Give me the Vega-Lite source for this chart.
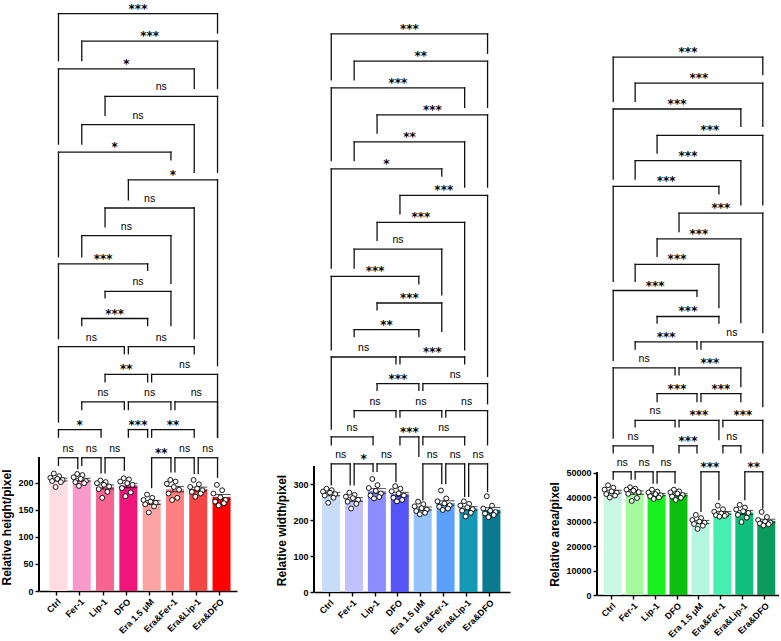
{
"$schema": "https://vega.github.io/schema/vega-lite/v6.json",
"padding": {"left": 0, "top": 0, "right": 0, "bottom": 0},
"config": {
 "view": {"stroke": null},
 "axis": {"labelFont": "Liberation Sans", "labelFontSize": 9, "labelFontWeight": "bold", "labelColor": "#000", "titleFont": "Liberation Sans", "titleFontSize": 12, "titleFontWeight": "bold", "titleColor": "#000", "domainColor": "#000", "domainWidth": 1.4, "tickColor": "#000", "tickWidth": 1.4, "tickSize": 4, "labelPadding": 2, "titlePadding": 4, "grid": false}
},
"resolve": {"scale": {"color": "independent"}},
"datasets": {
 "p1": [
  {"g":"Ctrl","r":3,"v":217},{"g":"Ctrl","r":6,"v":212},{"g":"Ctrl","r":1,"v":209},{"g":"Ctrl","r":5,"v":207},{"g":"Ctrl","r":8,"v":205},{"g":"Ctrl","r":2,"v":203},{"g":"Ctrl","r":7,"v":201},{"g":"Ctrl","r":4,"v":192},
  {"g":"Fer-1","r":3,"v":216},{"g":"Fer-1","r":6,"v":214},{"g":"Fer-1","r":1,"v":210},{"g":"Fer-1","r":5,"v":207},{"g":"Fer-1","r":8,"v":203},{"g":"Fer-1","r":2,"v":201},{"g":"Fer-1","r":7,"v":199},{"g":"Fer-1","r":4,"v":194},
  {"g":"Lip-1","r":3,"v":204},{"g":"Lip-1","r":6,"v":201},{"g":"Lip-1","r":1,"v":199},{"g":"Lip-1","r":5,"v":196},{"g":"Lip-1","r":8,"v":193},{"g":"Lip-1","r":2,"v":188},{"g":"Lip-1","r":7,"v":183},{"g":"Lip-1","r":4,"v":172},
  {"g":"DFO","r":3,"v":208},{"g":"DFO","r":6,"v":206},{"g":"DFO","r":1,"v":202},{"g":"DFO","r":5,"v":199},{"g":"DFO","r":8,"v":196},{"g":"DFO","r":2,"v":190},{"g":"DFO","r":7,"v":182},{"g":"DFO","r":4,"v":175},
  {"g":"Era 1.5 μM","r":3,"v":178},{"g":"Era 1.5 μM","r":6,"v":172},{"g":"Era 1.5 μM","r":1,"v":168},{"g":"Era 1.5 μM","r":5,"v":165},{"g":"Era 1.5 μM","r":8,"v":163},{"g":"Era 1.5 μM","r":2,"v":160},{"g":"Era 1.5 μM","r":7,"v":156},{"g":"Era 1.5 μM","r":4,"v":145},
  {"g":"Era&Fer-1","r":3,"v":205},{"g":"Era&Fer-1","r":6,"v":202},{"g":"Era&Fer-1","r":1,"v":198},{"g":"Era&Fer-1","r":5,"v":192},{"g":"Era&Fer-1","r":8,"v":187},{"g":"Era&Fer-1","r":2,"v":180},{"g":"Era&Fer-1","r":7,"v":172},{"g":"Era&Fer-1","r":4,"v":168},
  {"g":"Era&Lip-1","r":3,"v":205},{"g":"Era&Lip-1","r":6,"v":197},{"g":"Era&Lip-1","r":1,"v":192},{"g":"Era&Lip-1","r":5,"v":189},{"g":"Era&Lip-1","r":8,"v":186},{"g":"Era&Lip-1","r":2,"v":183},{"g":"Era&Lip-1","r":7,"v":180},{"g":"Era&Lip-1","r":4,"v":174},
  {"g":"Era&DFO","r":3,"v":196},{"g":"Era&DFO","r":6,"v":186},{"g":"Era&DFO","r":1,"v":180},{"g":"Era&DFO","r":5,"v":173},{"g":"Era&DFO","r":8,"v":168},{"g":"Era&DFO","r":2,"v":165},{"g":"Era&DFO","r":7,"v":162},{"g":"Era&DFO","r":4,"v":158}
 ],
 "p2": [
  {"g":"Ctrl","r":3,"v":287},{"g":"Ctrl","r":6,"v":283},{"g":"Ctrl","r":1,"v":279},{"g":"Ctrl","r":5,"v":276},{"g":"Ctrl","r":8,"v":272},{"g":"Ctrl","r":2,"v":268},{"g":"Ctrl","r":7,"v":262},{"g":"Ctrl","r":4,"v":248},
  {"g":"Fer-1","r":3,"v":276},{"g":"Fer-1","r":6,"v":270},{"g":"Fer-1","r":1,"v":265},{"g":"Fer-1","r":5,"v":261},{"g":"Fer-1","r":8,"v":256},{"g":"Fer-1","r":2,"v":251},{"g":"Fer-1","r":7,"v":245},{"g":"Fer-1","r":4,"v":232},
  {"g":"Lip-1","r":3,"v":314},{"g":"Lip-1","r":6,"v":297},{"g":"Lip-1","r":1,"v":289},{"g":"Lip-1","r":5,"v":281},{"g":"Lip-1","r":8,"v":274},{"g":"Lip-1","r":2,"v":268},{"g":"Lip-1","r":7,"v":264},{"g":"Lip-1","r":4,"v":260},
  {"g":"DFO","r":3,"v":294},{"g":"DFO","r":6,"v":287},{"g":"DFO","r":1,"v":280},{"g":"DFO","r":5,"v":274},{"g":"DFO","r":8,"v":268},{"g":"DFO","r":2,"v":262},{"g":"DFO","r":7,"v":256},{"g":"DFO","r":4,"v":252},
  {"g":"Era 1.5 μM","r":3,"v":251},{"g":"Era 1.5 μM","r":6,"v":244},{"g":"Era 1.5 μM","r":1,"v":238},{"g":"Era 1.5 μM","r":5,"v":233},{"g":"Era 1.5 μM","r":8,"v":229},{"g":"Era 1.5 μM","r":2,"v":225},{"g":"Era 1.5 μM","r":7,"v":220},{"g":"Era 1.5 μM","r":4,"v":216},
  {"g":"Era&Fer-1","r":3,"v":282},{"g":"Era&Fer-1","r":6,"v":260},{"g":"Era&Fer-1","r":1,"v":252},{"g":"Era&Fer-1","r":5,"v":246},{"g":"Era&Fer-1","r":8,"v":241},{"g":"Era&Fer-1","r":2,"v":237},{"g":"Era&Fer-1","r":7,"v":232},{"g":"Era&Fer-1","r":4,"v":228},
  {"g":"Era&Lip-1","r":3,"v":252},{"g":"Era&Lip-1","r":6,"v":245},{"g":"Era&Lip-1","r":1,"v":240},{"g":"Era&Lip-1","r":5,"v":235},{"g":"Era&Lip-1","r":8,"v":230},{"g":"Era&Lip-1","r":2,"v":226},{"g":"Era&Lip-1","r":7,"v":220},{"g":"Era&Lip-1","r":4,"v":210},
  {"g":"Era&DFO","r":3,"v":266},{"g":"Era&DFO","r":6,"v":240},{"g":"Era&DFO","r":1,"v":232},{"g":"Era&DFO","r":5,"v":226},{"g":"Era&DFO","r":8,"v":222},{"g":"Era&DFO","r":2,"v":218},{"g":"Era&DFO","r":7,"v":214},{"g":"Era&DFO","r":4,"v":208}
 ],
 "p3": [
  {"g":"Ctrl","r":3,"v":44800},{"g":"Ctrl","r":6,"v":43800},{"g":"Ctrl","r":1,"v":43000},{"g":"Ctrl","r":5,"v":42300},{"g":"Ctrl","r":8,"v":41800},{"g":"Ctrl","r":2,"v":41200},{"g":"Ctrl","r":7,"v":40600},{"g":"Ctrl","r":4,"v":39800},
  {"g":"Fer-1","r":3,"v":44000},{"g":"Fer-1","r":6,"v":43400},{"g":"Fer-1","r":1,"v":43000},{"g":"Fer-1","r":5,"v":42600},{"g":"Fer-1","r":8,"v":42000},{"g":"Fer-1","r":2,"v":41300},{"g":"Fer-1","r":7,"v":39600},{"g":"Fer-1","r":4,"v":38400},
  {"g":"Lip-1","r":3,"v":43000},{"g":"Lip-1","r":6,"v":42200},{"g":"Lip-1","r":1,"v":41800},{"g":"Lip-1","r":5,"v":41200},{"g":"Lip-1","r":8,"v":40700},{"g":"Lip-1","r":2,"v":40300},{"g":"Lip-1","r":7,"v":39800},{"g":"Lip-1","r":4,"v":39200},
  {"g":"DFO","r":3,"v":43000},{"g":"DFO","r":6,"v":42300},{"g":"DFO","r":1,"v":41900},{"g":"DFO","r":5,"v":41400},{"g":"DFO","r":8,"v":40800},{"g":"DFO","r":2,"v":40200},{"g":"DFO","r":7,"v":39700},{"g":"DFO","r":4,"v":38800},
  {"g":"Era 1.5 μM","r":3,"v":32700},{"g":"Era 1.5 μM","r":6,"v":31400},{"g":"Era 1.5 μM","r":1,"v":30600},{"g":"Era 1.5 μM","r":5,"v":30000},{"g":"Era 1.5 μM","r":8,"v":29500},{"g":"Era 1.5 μM","r":2,"v":29000},{"g":"Era 1.5 μM","r":7,"v":28300},{"g":"Era 1.5 μM","r":4,"v":27000},
  {"g":"Era&Fer-1","r":3,"v":36500},{"g":"Era&Fer-1","r":6,"v":35000},{"g":"Era&Fer-1","r":1,"v":34000},{"g":"Era&Fer-1","r":5,"v":33300},{"g":"Era&Fer-1","r":8,"v":32900},{"g":"Era&Fer-1","r":2,"v":32600},{"g":"Era&Fer-1","r":7,"v":32300},{"g":"Era&Fer-1","r":4,"v":32000},
  {"g":"Era&Lip-1","r":3,"v":36800},{"g":"Era&Lip-1","r":6,"v":35700},{"g":"Era&Lip-1","r":1,"v":34900},{"g":"Era&Lip-1","r":5,"v":34200},{"g":"Era&Lip-1","r":8,"v":33500},{"g":"Era&Lip-1","r":2,"v":32700},{"g":"Era&Lip-1","r":7,"v":31600},{"g":"Era&Lip-1","r":4,"v":29800},
  {"g":"Era&DFO","r":3,"v":33900},{"g":"Era&DFO","r":6,"v":31800},{"g":"Era&DFO","r":1,"v":30600},{"g":"Era&DFO","r":5,"v":30000},{"g":"Era&DFO","r":8,"v":29600},{"g":"Era&DFO","r":2,"v":29200},{"g":"Era&DFO","r":7,"v":28900},{"g":"Era&DFO","r":4,"v":28400}
 ],
 "b1": [
  {"a":"Ctrl","b":"Era&DFO","y":1066,"yl":979,"yr":1030,"lab":"***","mg":"DFO","h":1},
  {"a":"Fer-1","b":"Era&DFO","y":1015,"yl":979,"yr":928,"lab":"***","mg":"Era 1.5 μM","h":0},
  {"a":"Ctrl","b":"Era&Lip-1","y":964,"yl":825,"yr":928,"lab":"*","mg":"DFO","h":0},
  {"a":"Lip-1","b":"Era&DFO","y":913,"yl":878,"yr":773,"lab":"ns","mg":"Era 1.5 μM","h":1},
  {"a":"Fer-1","b":"Era&Lip-1","y":861,"yl":825,"yr":773,"lab":"ns","mg":"DFO","h":1},
  {"a":"Ctrl","b":"Era&Fer-1","y":810,"yl":617,"yr":796,"lab":"*","mg":"Lip-1","h":1},
  {"a":"DFO","b":"Era&DFO","y":759,"yl":722,"yr":416,"lab":"*","mg":"Era&Fer-1","h":0},
  {"a":"Lip-1","b":"Era&Lip-1","y":707,"yl":672,"yr":466,"lab":"ns","mg":"Era 1.5 μM","h":0},
  {"a":"Fer-1","b":"Era&Fer-1","y":656,"yl":617,"yr":568,"lab":"ns","mg":"DFO","h":0},
  {"a":"Ctrl","b":"Era 1.5 μM","y":604,"yl":466,"yr":592,"lab":"***","mg":"Lip-1","h":0},
  {"a":"Lip-1","b":"Era&Fer-1","y":553,"yl":541,"yr":490,"lab":"ns","mg":"DFO","h":1},
  {"a":"Fer-1","b":"Era 1.5 μM","y":503,"yl":490,"yr":490,"lab":"***","mg":"Lip-1","h":1},
  {"a":"Ctrl","b":"DFO","y":451,"yl":312,"yr":438,"lab":"ns","mg":"Fer-1","h":1},
  {"a":"DFO","b":"Era&Lip-1","y":451,"yl":438,"yr":438,"lab":"ns","mg":"Era 1.5 μM","h":1},
  {"a":"Lip-1","b":"Era 1.5 μM","y":400,"yl":386,"yr":386,"lab":"**","mg":"DFO","h":0},
  {"a":"Era 1.5 μM","b":"Era&DFO","y":400,"yl":386,"yr":284,"lab":"ns","mg":"Era&Fer-1","h":1},
  {"a":"Fer-1","b":"DFO","y":349,"yl":335,"yr":335,"lab":"ns","mg":"Lip-1","h":0},
  {"a":"DFO","b":"Era&Fer-1","y":349,"yl":335,"yr":335,"lab":"ns","mg":"Era 1.5 μM","h":0},
  {"a":"Era&Fer-1","b":"Era&DFO","y":349,"yl":335,"yr":284,"lab":"ns","mg":"Era&Lip-1","h":0},
  {"a":"Ctrl","b":"Lip-1","y":298,"yl":284,"yr":284,"lab":"*","mg":"Fer-1","h":0},
  {"a":"DFO","b":"Era 1.5 μM","y":298,"yl":284,"yr":284,"lab":"***","mg":"DFO","h":1},
  {"a":"Era 1.5 μM","b":"Era&Lip-1","y":298,"yl":284,"yr":284,"lab":"**","mg":"Era&Fer-1","h":0},
  {"a":"Ctrl","b":"Fer-1","y":246,"yl":232,"yr":226,"lab":"ns","mg":"Ctrl","h":1},
  {"a":"Fer-1","b":"Lip-1","y":246,"yl":232,"yr":218,"lab":"ns","mg":"Fer-1","h":1},
  {"a":"Lip-1","b":"DFO","y":246,"yl":218,"yr":223,"lab":"ns","mg":"Lip-1","h":1},
  {"a":"Era 1.5 μM","b":"Era&Fer-1","y":246,"yl":191,"yr":220,"lab":"**","mg":"Era 1.5 μM","h":1},
  {"a":"Era&Fer-1","b":"Era&Lip-1","y":246,"yl":220,"yr":217,"lab":"ns","mg":"Era&Fer-1","h":1},
  {"a":"Era&Lip-1","b":"Era&DFO","y":246,"yl":217,"yr":210,"lab":"ns","mg":"Era&Lip-1","h":1}
 ],
 "b2": [
  {"a":"Ctrl","b":"Era&DFO","y":1551,"yl":1423,"yr":1497,"lab":"***","mg":"DFO","h":1},
  {"a":"Fer-1","b":"Era&DFO","y":1475,"yl":1423,"yr":1347,"lab":"**","mg":"Era 1.5 μM","h":0},
  {"a":"Ctrl","b":"Era&Lip-1","y":1401,"yl":1199,"yr":1347,"lab":"***","mg":"DFO","h":0},
  {"a":"Lip-1","b":"Era&DFO","y":1326,"yl":1275,"yr":1125,"lab":"***","mg":"Era 1.5 μM","h":1},
  {"a":"Fer-1","b":"Era&Lip-1","y":1251,"yl":1199,"yr":1125,"lab":"**","mg":"DFO","h":1},
  {"a":"Ctrl","b":"Era&Fer-1","y":1176,"yl":900,"yr":1156,"lab":"*","mg":"Lip-1","h":1},
  {"a":"DFO","b":"Era&DFO","y":1102,"yl":1051,"yr":599,"lab":"***","mg":"Era&Fer-1","h":0},
  {"a":"Lip-1","b":"Era&Lip-1","y":1027,"yl":977,"yr":673,"lab":"***","mg":"Era 1.5 μM","h":0},
  {"a":"Fer-1","b":"Era&Fer-1","y":953,"yl":900,"yr":826,"lab":"ns","mg":"DFO","h":0},
  {"a":"Ctrl","b":"Era 1.5 μM","y":877,"yl":673,"yr":856,"lab":"***","mg":"Lip-1","h":0},
  {"a":"Lip-1","b":"Era&Fer-1","y":803,"yl":784,"yr":724,"lab":"***","mg":"DFO","h":1},
  {"a":"Fer-1","b":"Era 1.5 μM","y":729,"yl":710,"yr":710,"lab":"**","mg":"Lip-1","h":1},
  {"a":"Ctrl","b":"DFO","y":653,"yl":453,"yr":634,"lab":"ns","mg":"Fer-1","h":1},
  {"a":"DFO","b":"Era&Lip-1","y":653,"yl":634,"yr":634,"lab":"***","mg":"Era 1.5 μM","h":1},
  {"a":"Lip-1","b":"Era 1.5 μM","y":579,"yl":560,"yr":560,"lab":"***","mg":"DFO","h":0},
  {"a":"Era 1.5 μM","b":"Era&DFO","y":579,"yl":560,"yr":523,"lab":"ns","mg":"Era&Fer-1","h":1},
  {"a":"Fer-1","b":"DFO","y":504,"yl":486,"yr":486,"lab":"ns","mg":"Lip-1","h":0},
  {"a":"DFO","b":"Era&Fer-1","y":504,"yl":486,"yr":486,"lab":"ns","mg":"Era 1.5 μM","h":0},
  {"a":"Era&Fer-1","b":"Era&DFO","y":504,"yl":486,"yr":409,"lab":"ns","mg":"Era&Lip-1","h":0},
  {"a":"Ctrl","b":"Lip-1","y":431,"yl":409,"yr":409,"lab":"ns","mg":"Fer-1","h":0},
  {"a":"DFO","b":"Era 1.5 μM","y":431,"yl":409,"yr":377,"lab":"***","mg":"DFO","h":1},
  {"a":"Era 1.5 μM","b":"Era&Lip-1","y":431,"yl":409,"yr":409,"lab":"ns","mg":"Era&Fer-1","h":0},
  {"a":"Ctrl","b":"Fer-1","y":356,"yl":298,"yr":298,"lab":"ns","mg":"Ctrl","h":1},
  {"a":"Fer-1","b":"Lip-1","y":356,"yl":298,"yr":335,"lab":"*","mg":"Fer-1","h":1},
  {"a":"Lip-1","b":"DFO","y":356,"yl":335,"yr":307,"lab":"ns","mg":"Lip-1","h":1},
  {"a":"Era 1.5 μM","b":"Era&Fer-1","y":356,"yl":256,"yr":301,"lab":"ns","mg":"Era 1.5 μM","h":1},
  {"a":"Era&Fer-1","b":"Era&Lip-1","y":356,"yl":301,"yr":266,"lab":"ns","mg":"Era&Fer-1","h":1},
  {"a":"Era&Lip-1","b":"Era&DFO","y":356,"yl":266,"yr":279,"lab":"ns","mg":"Era&Lip-1","h":1}
 ],
 "b3": [
  {"a":"Ctrl","b":"Era&DFO","y":219600,"yl":201500,"yr":212400,"lab":"***","mg":"DFO","h":1},
  {"a":"Fer-1","b":"Era&DFO","y":209000,"yl":201500,"yr":191300,"lab":"***","mg":"Era 1.5 μM","h":0},
  {"a":"Ctrl","b":"Era&Lip-1","y":198400,"yl":169800,"yr":191300,"lab":"***","mg":"DFO","h":0},
  {"a":"Lip-1","b":"Era&DFO","y":187600,"yl":180400,"yr":159300,"lab":"***","mg":"Era 1.5 μM","h":1},
  {"a":"Fer-1","b":"Era&Lip-1","y":177300,"yl":169800,"yr":159300,"lab":"***","mg":"DFO","h":1},
  {"a":"Ctrl","b":"Era&Fer-1","y":166800,"yl":128000,"yr":163800,"lab":"***","mg":"Lip-1","h":1},
  {"a":"DFO","b":"Era&DFO","y":155900,"yl":148400,"yr":107100,"lab":"***","mg":"Era&Fer-1","h":0},
  {"a":"Lip-1","b":"Era&Lip-1","y":145400,"yl":138200,"yr":111200,"lab":"***","mg":"Era 1.5 μM","h":0},
  {"a":"Fer-1","b":"Era&Fer-1","y":135000,"yl":128000,"yr":117300,"lab":"***","mg":"DFO","h":0},
  {"a":"Ctrl","b":"Era 1.5 μM","y":124300,"yl":95800,"yr":121900,"lab":"***","mg":"Lip-1","h":0},
  {"a":"Lip-1","b":"Era&Fer-1","y":113700,"yl":111000,"yr":111000,"lab":"***","mg":"DFO","h":1},
  {"a":"Fer-1","b":"Era 1.5 μM","y":103300,"yl":100400,"yr":100400,"lab":"***","mg":"Lip-1","h":1},
  {"a":"Era 1.5 μM","b":"Era&DFO","y":103300,"yl":100400,"yr":76900,"lab":"ns","mg":"Era&Fer-1","h":1},
  {"a":"Ctrl","b":"DFO","y":92700,"yl":64100,"yr":89900,"lab":"ns","mg":"Fer-1","h":1},
  {"a":"DFO","b":"Era&Lip-1","y":92700,"yl":89900,"yr":85100,"lab":"***","mg":"Era 1.5 μM","h":1},
  {"a":"Lip-1","b":"Era 1.5 μM","y":82200,"yl":79000,"yr":79000,"lab":"***","mg":"DFO","h":0},
  {"a":"Era 1.5 μM","b":"Era&Lip-1","y":82200,"yl":79000,"yr":79000,"lab":"***","mg":"Era&Fer-1","h":0},
  {"a":"Fer-1","b":"DFO","y":71300,"yl":68600,"yr":68600,"lab":"ns","mg":"Lip-1","h":0},
  {"a":"DFO","b":"Era&Fer-1","y":71300,"yl":68600,"yr":63400,"lab":"***","mg":"Era 1.5 μM","h":0},
  {"a":"Era&Fer-1","b":"Era&DFO","y":71300,"yl":68600,"yr":58000,"lab":"***","mg":"Era&Lip-1","h":0},
  {"a":"Ctrl","b":"Lip-1","y":60900,"yl":58000,"yr":58000,"lab":"ns","mg":"Fer-1","h":0},
  {"a":"DFO","b":"Era 1.5 μM","y":60900,"yl":58000,"yr":58000,"lab":"***","mg":"DFO","h":1},
  {"a":"Era&Fer-1","b":"Era&Lip-1","y":60900,"yl":58000,"yr":58000,"lab":"ns","mg":"Era&Fer-1","h":1},
  {"a":"Ctrl","b":"Fer-1","y":50300,"yl":47350,"yr":47350,"lab":"ns","mg":"Ctrl","h":1},
  {"a":"Fer-1","b":"Lip-1","y":50300,"yl":47350,"yr":45700,"lab":"ns","mg":"Fer-1","h":1},
  {"a":"Lip-1","b":"DFO","y":50300,"yl":45700,"yr":45700,"lab":"ns","mg":"Lip-1","h":1},
  {"a":"Era 1.5 μM","b":"Era&Fer-1","y":50300,"yl":34100,"yr":38900,"lab":"***","mg":"Era 1.5 μM","h":1},
  {"a":"Era&Lip-1","b":"Era&DFO","y":50300,"yl":38900,"yr":35500,"lab":"**","mg":"Era&Lip-1","h":1}
 ]
},
"spacing": 38,
"hconcat": [
 {
  "width": 198, "height": 591,
  "layer": [
   {"data": {"name": "p1"}, "mark": {"type": "bar"},
    "encoding": {
     "x": {"field": "g", "type": "nominal", "scale": {"type": "band", "domain": ["Ctrl","Fer-1","Lip-1","DFO","Era 1.5 μM","Era&Fer-1","Era&Lip-1","Era&DFO"], "paddingInner": 0.4, "paddingOuter": 0.45}, "axis": {"title": null, "labelAngle": -45}},
     "y": {"aggregate": "mean", "field": "v", "type": "quantitative", "scale": {"domain": [0, 1091], "nice": false}, "axis": {"title": "Relative height/pixel", "values": [0, 50, 100, 150, 200], "domain": false, "titleY": 527}},
     "color": {"field": "g", "type": "nominal", "scale": {"domain": ["Ctrl","Fer-1","Lip-1","DFO","Era 1.5 μM","Era&Fer-1","Era&Lip-1","Era&DFO"], "range": ["#FFDDE3","#F799C9","#F56492","#F0157A","#FCA3A3","#FF8080","#F54545","#FF0000"]}, "legend": null}
    }},
   {"data": {"name": "p1"}, "mark": {"type": "rule", "color": "#000", "strokeWidth": 1.4},
    "encoding": {"x": {"value": 0}, "y": {"datum": 0, "type": "quantitative"}, "y2": {"datum": 246}}},
   {"data": {"name": "p1"}, "mark": {"type": "errorbar", "extent": "stderr", "color": "#000", "thickness": 1, "ticks": true},
    "encoding": {"x": {"field": "g", "type": "nominal", "title": null}, "y": {"field": "v", "type": "quantitative", "title": "Relative height/pixel"}}},
   {"data": {"name": "p1"}, "mark": {"type": "circle", "size": 24, "fill": "#fff", "stroke": "#000", "strokeWidth": 0.9, "opacity": 1},
    "encoding": {"x": {"field": "g", "type": "nominal", "title": null}, "xOffset": {"field": "r", "type": "nominal"}, "y": {"field": "v", "type": "quantitative", "title": "Relative height/pixel"}}},
   {"data": {"name": "b1"}, "mark": {"type": "rule", "color": "#111", "strokeWidth": 1.3, "strokeCap": "square", "xOffset": 2, "x2Offset": -2},
    "encoding": {"x": {"field": "a", "type": "nominal"}, "x2": {"field": "b"}, "y": {"field": "y", "type": "quantitative"}}},
   {"data": {"name": "b1"}, "mark": {"type": "rule", "color": "#111", "strokeWidth": 1.3, "strokeCap": "square", "xOffset": 2},
    "encoding": {"x": {"field": "a", "type": "nominal"}, "y": {"field": "y", "type": "quantitative"}, "y2": {"field": "yl"}}},
   {"data": {"name": "b1"}, "mark": {"type": "rule", "color": "#111", "strokeWidth": 1.3, "strokeCap": "square", "xOffset": -2},
    "encoding": {"x": {"field": "b", "type": "nominal"}, "y": {"field": "y", "type": "quantitative"}, "y2": {"field": "yr"}}},
   {"data": {"name": "b1"}, "transform": [{"filter": "datum.lab == 'ns' && datum.h == 0"}],
    "mark": {"type": "text", "font": "Liberation Sans", "fontSize": 10.5, "baseline": "alphabetic", "dy": -6, "color": "#000"},
    "encoding": {"x": {"field": "mg", "type": "nominal"}, "y": {"field": "y", "type": "quantitative"}, "text": {"field": "lab"}}},
   {"data": {"name": "b1"}, "transform": [{"filter": "datum.lab == 'ns' && datum.h == 1"}],
    "mark": {"type": "text", "font": "Liberation Sans", "fontSize": 10.5, "baseline": "alphabetic", "dy": -6, "color": "#000"},
    "encoding": {"x": {"field": "mg", "type": "nominal", "bandPosition": 1.3333}, "y": {"field": "y", "type": "quantitative"}, "text": {"field": "lab"}}},
   {"data": {"name": "b1"}, "transform": [{"filter": "datum.lab != 'ns' && datum.h == 0"}],
    "mark": {"type": "text", "font": "DejaVu Sans", "fontWeight": "bold", "fontSize": 12, "baseline": "alphabetic", "dy": -1, "color": "#000"},
    "encoding": {"x": {"field": "mg", "type": "nominal"}, "y": {"field": "y", "type": "quantitative"}, "text": {"field": "lab"}}},
   {"data": {"name": "b1"}, "transform": [{"filter": "datum.lab != 'ns' && datum.h == 1"}],
    "mark": {"type": "text", "font": "DejaVu Sans", "fontWeight": "bold", "fontSize": 12, "baseline": "alphabetic", "dy": -1, "color": "#000"},
    "encoding": {"x": {"field": "mg", "type": "nominal", "bandPosition": 1.3333}, "y": {"field": "y", "type": "quantitative"}, "text": {"field": "lab"}}}
  ]
 },
 {
  "width": 196, "height": 592,
  "layer": [
   {"data": {"name": "p2"}, "mark": {"type": "bar"},
    "encoding": {
     "x": {"field": "g", "type": "nominal", "scale": {"type": "band", "domain": ["Ctrl","Fer-1","Lip-1","DFO","Era 1.5 μM","Era&Fer-1","Era&Lip-1","Era&DFO"], "paddingInner": 0.375, "paddingOuter": 0.467, "align": 0.379}, "axis": {"title": null, "labelAngle": -45}},
     "y": {"aggregate": "mean", "field": "v", "type": "quantitative", "scale": {"domain": [0, 1645], "nice": false}, "axis": {"title": "Relative width/pixel", "values": [0, 100, 200, 300], "domain": false, "titleY": 530}},
     "color": {"field": "g", "type": "nominal", "scale": {"domain": ["Ctrl","Fer-1","Lip-1","DFO","Era 1.5 μM","Era&Fer-1","Era&Lip-1","Era&DFO"], "range": ["#C7DCF7","#C1C1FF","#8D8DFF","#5454F7","#94C2F9","#5AA0F8","#1498B4","#0B7A90"]}, "legend": null}
    }},
   {"data": {"name": "p2"}, "mark": {"type": "rule", "color": "#000", "strokeWidth": 1.4},
    "encoding": {"x": {"value": 0}, "y": {"datum": 0, "type": "quantitative"}, "y2": {"datum": 350}}},
   {"data": {"name": "p2"}, "mark": {"type": "errorbar", "extent": "stderr", "color": "#000", "thickness": 1, "ticks": true},
    "encoding": {"x": {"field": "g", "type": "nominal", "title": null}, "y": {"field": "v", "type": "quantitative", "title": "Relative width/pixel"}}},
   {"data": {"name": "p2"}, "mark": {"type": "circle", "size": 24, "fill": "#fff", "stroke": "#000", "strokeWidth": 0.9, "opacity": 1},
    "encoding": {"x": {"field": "g", "type": "nominal", "title": null}, "xOffset": {"field": "r", "type": "nominal"}, "y": {"field": "v", "type": "quantitative", "title": "Relative width/pixel"}}},
   {"data": {"name": "b2"}, "mark": {"type": "rule", "color": "#111", "strokeWidth": 1.3, "strokeCap": "square", "xOffset": 2, "x2Offset": -2},
    "encoding": {"x": {"field": "a", "type": "nominal"}, "x2": {"field": "b"}, "y": {"field": "y", "type": "quantitative"}}},
   {"data": {"name": "b2"}, "mark": {"type": "rule", "color": "#111", "strokeWidth": 1.3, "strokeCap": "square", "xOffset": 2},
    "encoding": {"x": {"field": "a", "type": "nominal"}, "y": {"field": "y", "type": "quantitative"}, "y2": {"field": "yl"}}},
   {"data": {"name": "b2"}, "mark": {"type": "rule", "color": "#111", "strokeWidth": 1.3, "strokeCap": "square", "xOffset": -2},
    "encoding": {"x": {"field": "b", "type": "nominal"}, "y": {"field": "y", "type": "quantitative"}, "y2": {"field": "yr"}}},
   {"data": {"name": "b2"}, "transform": [{"filter": "datum.lab == 'ns' && datum.h == 0"}],
    "mark": {"type": "text", "font": "Liberation Sans", "fontSize": 10.5, "baseline": "alphabetic", "dy": -6, "color": "#000"},
    "encoding": {"x": {"field": "mg", "type": "nominal"}, "y": {"field": "y", "type": "quantitative"}, "text": {"field": "lab"}}},
   {"data": {"name": "b2"}, "transform": [{"filter": "datum.lab == 'ns' && datum.h == 1"}],
    "mark": {"type": "text", "font": "Liberation Sans", "fontSize": 10.5, "baseline": "alphabetic", "dy": -6, "color": "#000"},
    "encoding": {"x": {"field": "mg", "type": "nominal", "bandPosition": 1.3}, "y": {"field": "y", "type": "quantitative"}, "text": {"field": "lab"}}},
   {"data": {"name": "b2"}, "transform": [{"filter": "datum.lab != 'ns' && datum.h == 0"}],
    "mark": {"type": "text", "font": "DejaVu Sans", "fontWeight": "bold", "fontSize": 12, "baseline": "alphabetic", "dy": -1, "color": "#000"},
    "encoding": {"x": {"field": "mg", "type": "nominal"}, "y": {"field": "y", "type": "quantitative"}, "text": {"field": "lab"}}},
   {"data": {"name": "b2"}, "transform": [{"filter": "datum.lab != 'ns' && datum.h == 1"}],
    "mark": {"type": "text", "font": "DejaVu Sans", "fontWeight": "bold", "fontSize": 12, "baseline": "alphabetic", "dy": -1, "color": "#000"},
    "encoding": {"x": {"field": "mg", "type": "nominal", "bandPosition": 1.3}, "y": {"field": "y", "type": "quantitative"}, "text": {"field": "lab"}}}
  ]
 },
 {
  "width": 182, "height": 595,
  "layer": [
   {"data": {"name": "p3"}, "mark": {"type": "bar"},
    "encoding": {
     "x": {"field": "g", "type": "nominal", "scale": {"type": "band", "domain": ["Ctrl","Fer-1","Lip-1","DFO","Era 1.5 μM","Era&Fer-1","Era&Lip-1","Era&DFO"], "paddingInner": 0.315, "paddingOuter": 0.305}, "axis": {"title": null, "labelAngle": -45}},
     "y": {"aggregate": "mean", "field": "v", "type": "quantitative", "scale": {"domain": [0, 242900], "nice": false}, "axis": {"title": "Relative area/pixel", "values": [0, 10000, 20000, 30000, 40000, 50000], "format": "d", "domain": false, "titleY": 534}},
     "color": {"field": "g", "type": "nominal", "scale": {"domain": ["Ctrl","Fer-1","Lip-1","DFO","Era 1.5 μM","Era&Fer-1","Era&Lip-1","Era&DFO"], "range": ["#C9F8E5","#A3FB9D","#18F01F","#0CC010","#B4F6E0","#46EEB1","#0FC07D","#0D9A5F"]}, "legend": null}
    }},
   {"data": {"name": "p3"}, "mark": {"type": "rule", "color": "#000", "strokeWidth": 1.4},
    "encoding": {"x": {"value": 0}, "y": {"datum": 0, "type": "quantitative"}, "y2": {"datum": 50200}}},
   {"data": {"name": "p3"}, "mark": {"type": "errorbar", "extent": "stderr", "color": "#000", "thickness": 1, "ticks": true},
    "encoding": {"x": {"field": "g", "type": "nominal", "title": null}, "y": {"field": "v", "type": "quantitative", "title": "Relative area/pixel"}}},
   {"data": {"name": "p3"}, "mark": {"type": "circle", "size": 24, "fill": "#fff", "stroke": "#000", "strokeWidth": 0.9, "opacity": 1},
    "encoding": {"x": {"field": "g", "type": "nominal", "title": null}, "xOffset": {"field": "r", "type": "nominal"}, "y": {"field": "v", "type": "quantitative", "title": "Relative area/pixel"}}},
   {"data": {"name": "b3"}, "mark": {"type": "rule", "color": "#111", "strokeWidth": 1.3, "strokeCap": "square", "xOffset": 2, "x2Offset": -2},
    "encoding": {"x": {"field": "a", "type": "nominal"}, "x2": {"field": "b"}, "y": {"field": "y", "type": "quantitative"}}},
   {"data": {"name": "b3"}, "mark": {"type": "rule", "color": "#111", "strokeWidth": 1.3, "strokeCap": "square", "xOffset": 2},
    "encoding": {"x": {"field": "a", "type": "nominal"}, "y": {"field": "y", "type": "quantitative"}, "y2": {"field": "yl"}}},
   {"data": {"name": "b3"}, "mark": {"type": "rule", "color": "#111", "strokeWidth": 1.3, "strokeCap": "square", "xOffset": -2},
    "encoding": {"x": {"field": "b", "type": "nominal"}, "y": {"field": "y", "type": "quantitative"}, "y2": {"field": "yr"}}},
   {"data": {"name": "b3"}, "transform": [{"filter": "datum.lab == 'ns' && datum.h == 0"}],
    "mark": {"type": "text", "font": "Liberation Sans", "fontSize": 10.5, "baseline": "alphabetic", "dy": -6, "color": "#000"},
    "encoding": {"x": {"field": "mg", "type": "nominal"}, "y": {"field": "y", "type": "quantitative"}, "text": {"field": "lab"}}},
   {"data": {"name": "b3"}, "transform": [{"filter": "datum.lab == 'ns' && datum.h == 1"}],
    "mark": {"type": "text", "font": "Liberation Sans", "fontSize": 10.5, "baseline": "alphabetic", "dy": -6, "color": "#000"},
    "encoding": {"x": {"field": "mg", "type": "nominal", "bandPosition": 1.23}, "y": {"field": "y", "type": "quantitative"}, "text": {"field": "lab"}}},
   {"data": {"name": "b3"}, "transform": [{"filter": "datum.lab != 'ns' && datum.h == 0"}],
    "mark": {"type": "text", "font": "DejaVu Sans", "fontWeight": "bold", "fontSize": 12, "baseline": "alphabetic", "dy": -1, "color": "#000"},
    "encoding": {"x": {"field": "mg", "type": "nominal"}, "y": {"field": "y", "type": "quantitative"}, "text": {"field": "lab"}}},
   {"data": {"name": "b3"}, "transform": [{"filter": "datum.lab != 'ns' && datum.h == 1"}],
    "mark": {"type": "text", "font": "DejaVu Sans", "fontWeight": "bold", "fontSize": 12, "baseline": "alphabetic", "dy": -1, "color": "#000"},
    "encoding": {"x": {"field": "mg", "type": "nominal", "bandPosition": 1.23}, "y": {"field": "y", "type": "quantitative"}, "text": {"field": "lab"}}}
  ]
 }
]
}
